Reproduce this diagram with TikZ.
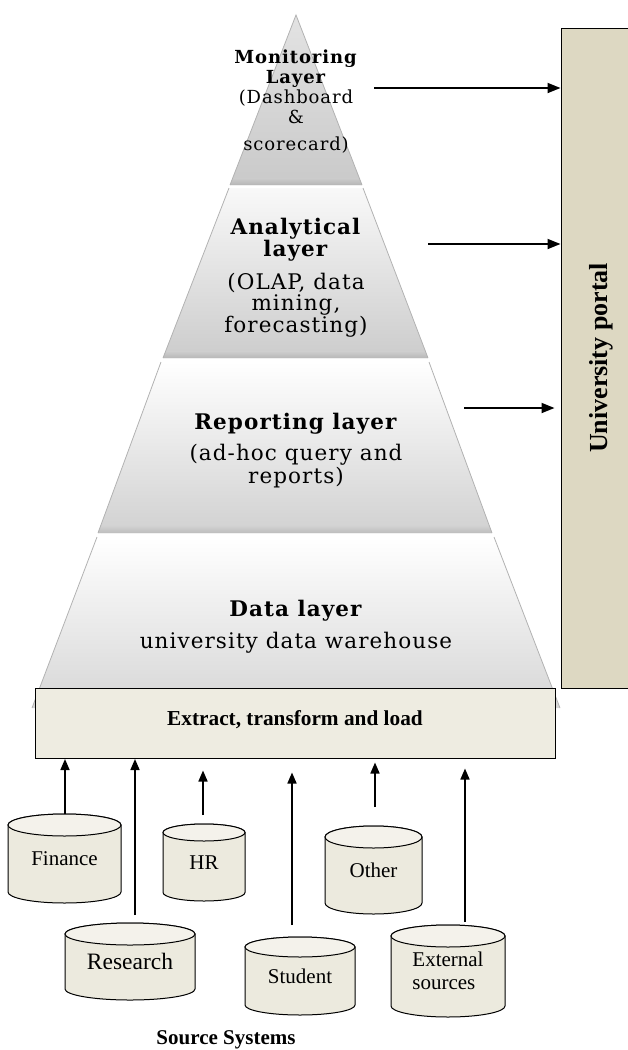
\documentclass[tikz,border=0pt]{standalone}
\usepackage{fontspec}
\setmainfont{Liberation Serif}
\newfontfamily\pyr[LetterSpace=5]{DejaVu Serif}
\usetikzlibrary{arrows.meta}
\definecolor{portalfill}{HTML}{DDD8C2}
\definecolor{etlfill}{HTML}{EEECE1}
\definecolor{cylbody}{HTML}{ECEADE}
\definecolor{cyltop}{HTML}{F4F2EB}
\newcommand{\dbcyl}[7]{% name, xl, xr, ytop, ybot, ry, text
  \pgfmathsetmacro{\cx}{(#2+#3)/2}%
  \pgfmathsetmacro{\rx}{(#3-#2)/2}%
  \pgfmathsetmacro{\cy}{(#4+#5)/2}%
  \pgfmathsetmacro{\hh}{#5-#4}%
  \filldraw[cylline,fill=cylbody] (#2,#4+#6) -- (#2,#5-#6)
     arc[start angle=180,end angle=360,x radius=\rx pt,y radius=#6 pt]
     -- (#3,#4+#6)
     arc[start angle=0,end angle=180,x radius=\rx pt,y radius=#6 pt] -- cycle;
  \filldraw[cylline,fill=cyltop] (\cx,#4+#6) ellipse[x radius=\rx pt,y radius=#6 pt];
  \node[cyltext,minimum width=2*\rx pt,minimum height=\hh pt] (#1) at (\cx,\cy) {#7};
}
\begin{document}
\begin{tikzpicture}[x=1pt,y=-1pt,
  arr/.style={line width=1.6pt,-{Triangle[length=11pt,width=9pt]}},
  parr/.style={line width=1.8pt,-{Triangle[length=13pt,width=10pt]}},
  boxline/.style={draw=black,line width=1pt},
  edge/.style={draw=gray!60,line width=0.8pt},
  layertext/.style={align=center,inner sep=0pt,anchor=north},
  cylline/.style={draw=black,line width=1pt},
  cyltext/.style={draw=none,inner sep=0pt,align=left,font=\fontsize{21}{23}\selectfont}
]
\useasboundingbox (0,0) rectangle (627,1050);

% ---- pyramid layers
\shade[top color=gray!22, bottom color=gray!42] (296,15) -- (362,185) -- (230,185) -- cycle;
\shade[top color=gray!40, bottom color=gray!58] (359,178) -- (362,185) -- (230,185) -- (233,178) -- cycle;
\draw[edge] (230,185) -- (296,15) -- (362,185);

\shade[top color=gray!5, bottom color=gray!40] (229,188) -- (363,188) -- (428,358) -- (163,358) -- cycle;
\shade[top color=gray!38, bottom color=gray!56] (166,351) -- (425,351) -- (428,358) -- (163,358) -- cycle;
\draw[edge] (163,358) -- (229,188) (363,188) -- (428,358);

\shade[top color=white, middle color=gray!10, bottom color=gray!36] (161,362) -- (429,362) -- (492,533) -- (98,533) -- cycle;
\shade[top color=gray!36, bottom color=gray!52] (100.5,526) -- (489.5,526) -- (492,533) -- (98,533) -- cycle;
\draw[edge] (98,533) -- (161,362) (429,362) -- (492,533);

\shade[top color=white, middle color=gray!6, bottom color=gray!32] (97,537) -- (494,537) -- (560,708) -- (32,708) -- cycle;
\draw[edge] (32,708) -- (97,537) (494,537) -- (560,708);

% ---- layer texts
\node[layertext,font=\pyr\fontsize{18}{20}\selectfont] (mon) at (296,50)
  {\textbf{Monitoring}\\ \textbf{Layer}\\ (Dashboard\\ \&\\[7pt] scorecard)};
\node[layertext,font=\pyr\fontsize{21.5}{21}\selectfont] (ana) at (296,218)
  {\textbf{Analytical}\\ \textbf{layer}\\[11pt] (OLAP, data\\ mining,\\ forecasting)};
\node[layertext,font=\pyr\fontsize{21.5}{23}\selectfont] (rep) at (296,413)
  {\textbf{Reporting layer}\\[8pt] (ad-hoc query and\\ reports)};
\node[layertext,font=\pyr\fontsize{21.5}{22}\selectfont] (dat) at (296,600)
  {\textbf{Data layer}\\[10pt] university data warehouse};

% ---- portal
\node[boxline,fill=portalfill,minimum width=81pt,minimum height=660pt,inner sep=0pt] (portal) at (601.5,358)
  {\rotatebox{90}{\fontsize{26}{28}\selectfont\bfseries University portal}};

\coordinate (m1) at (374,88);
\coordinate (m2) at (428,244);
\coordinate (m3) at (464,408);
\draw[parr] (m1) -- (m1 -| portal.west);
\draw[parr] (m2) -- (m2 -| portal.west);
\draw[parr,shorten >=6pt] (m3) -- (m3 -| portal.west);

% ---- ETL
\node[boxline,fill=etlfill,minimum width=520pt,minimum height=70pt,inner sep=0pt] (etl) at (295,723)
  {\raisebox{10pt}{\fontsize{21.3}{23}\selectfont\bfseries Extract, transform and load}};

% ---- source cylinders
\dbcyl{fin}{8}{121}{814}{903}{11}{Finance}
\dbcyl{res}{65}{195}{923}{1000}{11}{\fontsize{23.5}{25}\selectfont Research}
\dbcyl{hr}{163}{245}{824}{901}{8.5}{HR}
\dbcyl{stu}{245}{355}{937}{1015}{10}{Student}
\dbcyl{oth}{325}{422}{826}{914}{11}{Other}
\dbcyl{ext}{391}{505}{925}{1017}{11}{External\\sources}

\coordinate (s1) at (65,814);
\coordinate (s2) at (135,915);
\coordinate (s3) at (203,815);
\coordinate (s4) at (292,925);
\coordinate (s5) at (375,807);
\coordinate (s6) at (465,922);
\draw[arr,shorten >=0.5pt] (s1) -- (s1 |- etl.south);
\draw[arr,shorten >=0.5pt] (s2) -- (s2 |- etl.south);
\draw[arr,shorten >=12pt] (s3) -- (s3 |- etl.south);
\draw[arr,shorten >=14pt] (s4) -- (s4 |- etl.south);
\draw[arr,shorten >=4pt] (s5) -- (s5 |- etl.south);
\draw[arr,shorten >=10pt] (s6) -- (s6 |- etl.south);

\node[font=\fontsize{21}{23}\selectfont\bfseries] (src) at (226,1040) {Source Systems};
\end{tikzpicture}
\end{document}
